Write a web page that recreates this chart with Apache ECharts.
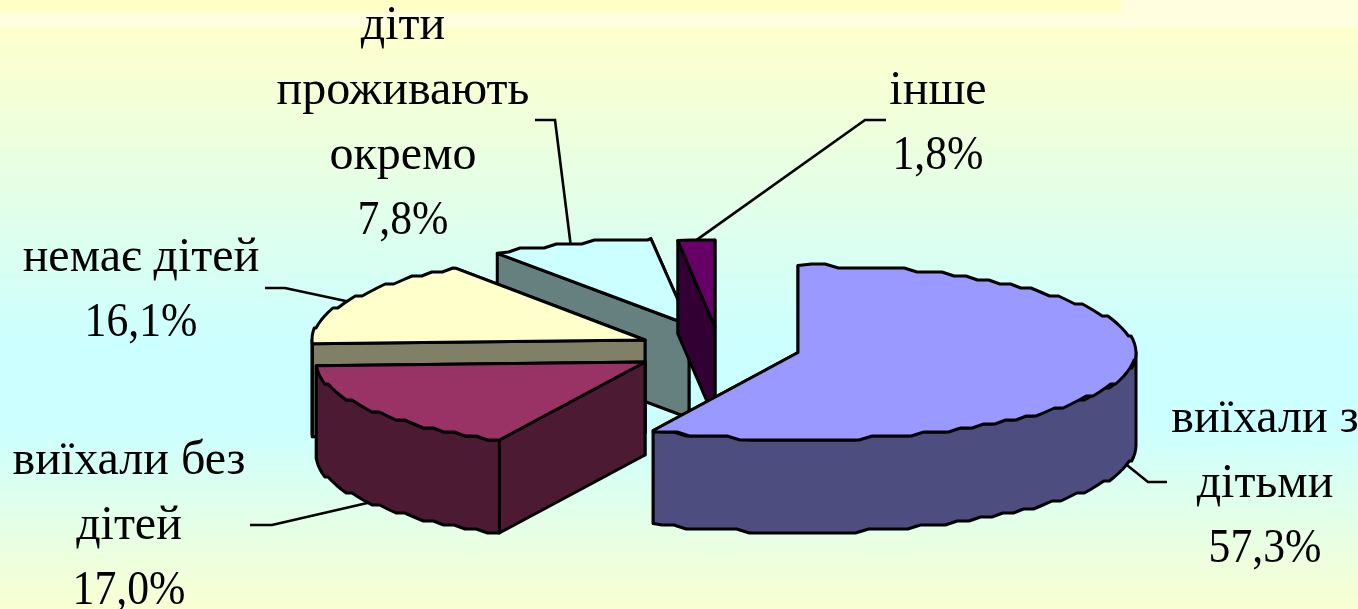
<!DOCTYPE html>
<html>
<head>
<meta charset="utf-8">
<style>
  html, body { margin: 0; padding: 0; background: #ffffcc; }
  #chart { width: 1358px; height: 609px; }
</style>
<script src="https://cdn.jsdelivr.net/npm/echarts@6/dist/echarts.min.js"></script>
</head>
<body>
<div id="chart"></div>
<script>
// дані діаграми
var categories = ['виїхали з\nдітьми', 'виїхали без\nдітей', 'немає дітей', 'діти\nпроживають\nокремо', 'інше'];
var values = [57.3, 17.0, 16.1, 7.8, 1.8];

// кольори секторів
var topColors = ['#9999ff', '#993366', '#ffffcc', '#ccffff', '#660066'];
var wallColors = ['#4d4d80', '#4d1a33', '#808066', '#668080', '#330033'];

// розміщення: вершини "вирізаних" секторів, підписи, виноски
var apexX = [798, 645, 645, 689, 715];
var apexY = [352.5, 362, 340, 325, 327];
var radiusX = [338, 329, 333, 338, 330];
var radiusXLeft = [327, 329, 333, 338, 330];
var radiusY = 87;
var depth = 93;
var drawOrder = [4, 3, 2, 0, 1];
var labelX = [1265, 129, 141, 403, 938];
var labelFirstY = [419, 461, 258, 26, 91];
var lineGap = 65;
var elbowX = [1148, 272, 285, 555, 865];
var elbowY = [482, 525, 288, 120, 120];
var tailX = [1167, 250, 265, 535, 886];
var stepPx = 4; // сходинки контуру, як у растрової картинки
var arcStep = 0.04;

function toRad(pct) { return pct / 100 * Math.PI * 2; }

function rim(i, a, drop) {
    var s = Math.sin(a);
    return [
        apexX[i] + (s < 0 ? radiusXLeft[i] : radiusX[i]) * s,
        apexY[i] - radiusY * Math.cos(a) + (drop || 0)
    ];
}

function stepped(i, a, drop) {
    var p = rim(i, a);
    return [p[0], Math.round(p[1] / stepPx) * stepPx + (drop || 0)];
}

function renderSlice(params, api) {
    var i = params.dataIndex;
    var start = 0;
    for (var k = 0; k < i; k++) start += values[k];
    var a0 = toRad(start);
    var a1 = toRad(start + api.value(0));
    var base = drawOrder[i] * 10;

    function face(points, fill, z) {
        return {
            type: 'polygon',
            z2: base + z,
            shape: { points: points },
            style: { fill: fill, stroke: '#000', lineWidth: 3, lineJoin: 'round' }
        };
    }

    var apex = [apexX[i], apexY[i]];
    var apexLow = [apexX[i], apexY[i] + depth];
    var children = [];

    // бокові грані
    children.push(face([apex, rim(i, a1), rim(i, a1, depth), apexLow], wallColors[i], 1));
    children.push(face([apex, rim(i, a0), rim(i, a0, depth), apexLow], wallColors[i], 2));

    // зовнішня стінка, лише передня половина еліпса
    var from = Math.max(a0, Math.PI / 2);
    var to = Math.min(a1, Math.PI * 1.5);
    if (to > from) {
        var upper = [rim(i, from)], lower = [rim(i, from, depth)];
        for (var a = from + arcStep; a < to; a += arcStep) {
            upper.push(stepped(i, a));
            lower.unshift(stepped(i, a, depth));
        }
        upper.push(rim(i, to));
        lower.unshift(rim(i, to, depth));
        children.push(face(upper.concat(lower), wallColors[i], 3));
    }

    // верхня грань
    var top = [apex, rim(i, a0)];
    for (var b = a0 + arcStep; b < a1; b += arcStep) top.push(stepped(i, b));
    top.push(rim(i, a1));
    children.push(face(top, topColors[i], 4));

    // виноска
    var mid = (a0 + a1) / 2;
    var isFront = Math.cos(mid) < 0;
    children.push({
        type: 'polyline',
        z2: 100,
        shape: { points: [[tailX[i], elbowY[i]], [elbowX[i], elbowY[i]], rim(i, mid, isFront ? depth : 0)] },
        style: { fill: 'none', stroke: '#000', lineWidth: 2.6 }
    });

    // підпис: назва і відсоток, цифри в оригіналі вужчі
    var lines = categories[i].split('\n');
    lines.push(api.value(0).toFixed(1).replace('.', ',') + '%');
    lines.forEach(function (line, n) {
        var isPct = n === lines.length - 1;
        children.push({
            type: 'text',
            z2: 110,
            x: labelX[i],
            y: labelFirstY[i] + n * lineGap,
            scaleX: isPct ? 0.91 : 1,
            style: {
                text: line,
                font: '48px "Liberation Serif"',
                fill: '#000',
                align: 'center',
                verticalAlign: 'middle'
            }
        });
    });

    return { type: 'group', children: children };
}

var myChart = echarts.init(document.getElementById('chart'));
myChart.setOption({
    animation: false,
    backgroundColor: new echarts.graphic.LinearGradient(0, 0, 0, 1, [
        { offset: 0.046, color: '#ffffcc' },
        { offset: 0.56, color: '#ccffff' },
        { offset: 0.70, color: '#ccffff' },
        { offset: 1, color: '#f9ffd2' }
    ]),
    graphic: [
        { type: 'rect', z: -1, shape: { x: 0, y: 0, width: 1358, height: 28 }, style: { fill: '#ffffe0' } },
        { type: 'rect', z: -1, shape: { x: 0, y: 0, width: 1122, height: 12 }, style: { fill: '#ffffc8' } }
    ],
    series: [{
        type: 'custom',
        coordinateSystem: 'none',
        silent: true,
        renderItem: renderSlice,
        data: values.map(function (v) { return [v]; })
    }]
});
</script>
</body>
</html>
